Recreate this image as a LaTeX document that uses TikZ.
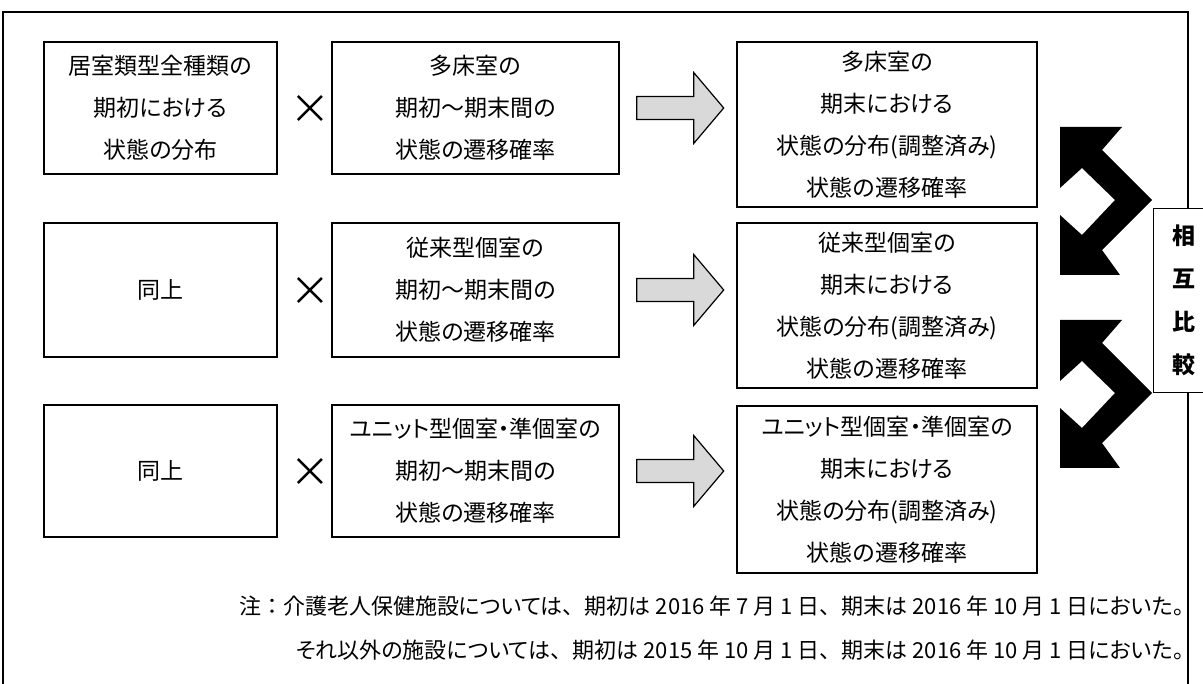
\documentclass[tikz,border=0pt]{standalone}
\usepackage{fontspec}
\setmainfont{Noto Sans CJK JP}[CharacterWidth=AlternateProportional]
\newfontfamily\fullwidth{Noto Sans CJK JP}
\newcommand\fwp[1]{{\fullwidth #1}}
\usetikzlibrary{calc}
\tikzset{
  box/.style={draw, line width=1.4pt, fill=white, inner sep=0pt, align=center,
    font=\fontsize{23}{42}\selectfont},
  frameline/.style={line width=1.6pt},
  timesmark/.style={line width=2.6pt},
  grayarrow/.pic={\draw[line width=1.2pt, fill=gray!30, line join=miter]
    (0,-11.5) -- (57,-11.5) -- (57,-35.5) -- (87,0) -- (57,35.5) -- (57,11.5) -- (0,11.5) -- cycle;},
  bigarrow/.pic={\fill[black]
    (1060,127) -- (1122,127) -- (1102,150) -- (1152,200) -- (1102,250) -- (1120,275)
    -- (1060,275) -- (1060,215) -- (1082,235) -- (1115,200) -- (1082,168) -- (1060,188) -- cycle;},
  notetext/.style={inner sep=0pt, anchor=east, font=\fontsize{22}{24}\selectfont},
  cmp/.style={draw, line width=1.4pt, fill=white, minimum width=60pt, minimum height=184pt,
    inner sep=0pt, align=center, font=\fontsize{23}{43}\selectfont\bfseries}
}
\begin{document}
\begin{tikzpicture}[x=1pt,y=-1pt]
\useasboundingbox (0,0) rectangle (1203,684);
% outer frame
\draw[frameline] (3,700) -- (3,12) -- (1188,12) -- (1188,700);

% row 1
\node[box, minimum width=233pt, minimum height=132pt] (A1) at (160.5,108) {居室類型全種類の\\期初における\\状態の分布};
\node[box, minimum width=287pt, minimum height=132pt] (B1) at (475.5,108) {多床室の\\期初～期末間の\\状態の遷移確率};
\node[box, minimum width=300pt, minimum height=165pt] (C1) at (887,124.5) {多床室の\\期末における\\状態の分布(調整済み)\\状態の遷移確率};
% row 2
\node[box, minimum width=233pt, minimum height=134pt] (A2) at (160.5,290) {同上};
\node[box, minimum width=287pt, minimum height=134pt] (B2) at (475.5,290) {従来型個室の\\期初～期末間の\\状態の遷移確率};
\node[box, minimum width=300pt, minimum height=165pt] (C2) at (887,305.5) {従来型個室の\\期末における\\状態の分布(調整済み)\\状態の遷移確率};
% row 3
\node[box, minimum width=233pt, minimum height=132pt] (A3) at (160.5,471) {同上};
\node[box, minimum width=287pt, minimum height=132pt] (B3) at (475.5,471) {ユニット型個室・準個室の\\期初～期末間の\\状態の遷移確率};
\node[box, minimum width=300pt, minimum height=167pt] (C3) at (887,489.5) {ユニット型個室・準個室の\\期末における\\状態の分布(調整済み)\\状態の遷移確率};

% times marks
\foreach \r in {1,2,3}{
  \coordinate (X\r) at ($(A\r.east)!0.6!(B\r.west)$);
  \draw[timesmark] ($(X\r)+(-12,-12)$) -- ($(X\r)+(12,12)$);
  \draw[timesmark] ($(X\r)+(-12,12)$) -- ($(X\r)+(12,-12)$);
  \pic at ($(B\r.east)+(17,0)$) {grayarrow};
}

% mutual comparison arrows
\pic at (0,0) {bigarrow};
\pic at (0,193) {bigarrow};
\node[cmp, anchor=north west] (M) at (1153,208) {相\\互\\比\\較};

% note
\node[notetext] (N1) at (1184,606) {注\fwp{：}介護老人保健施設については\fwp{、}期初は 2016 年 7 月 1 日\fwp{、}期末は 2016 年 10 月 1 日においた。};
\node[notetext] (N2) at (1184,650) {それ以外の施設については\fwp{、}期初は 2015 年 10 月 1 日\fwp{、}期末は 2016 年 10 月 1 日においた。};
\end{tikzpicture}
\end{document}
